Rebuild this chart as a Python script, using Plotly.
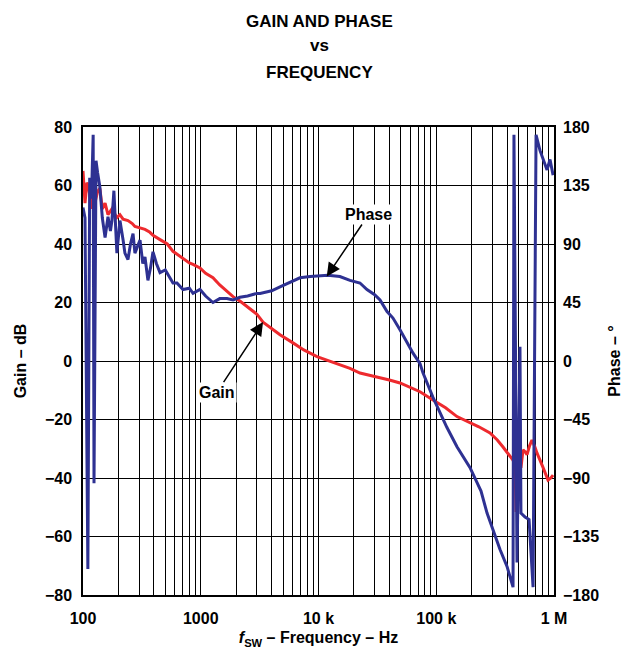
import plotly.graph_objects as go

# Gain (dB) vs frequency (Hz)
gain_freq = [100, 104, 108, 112, 117, 122, 128, 133, 139, 146, 154, 163, 176, 194, 206,
             219, 241, 262, 276, 305, 336, 370, 393, 451, 520, 581, 650, 707, 800, 860,
             985, 1100, 1270, 1450, 1670, 1880, 2150, 2500, 3000, 3380, 4000, 4710, 6070,
             7500, 9710, 11800, 15000, 18500, 22500, 30000, 40000, 49200, 60000, 72800,
             93800, 120000, 150000, 182000, 230000, 286000, 330000, 369000, 423000,
             450000, 467000, 476000, 485000, 504000, 524000, 546000, 568000, 590000,
             620000, 650000, 690000, 718000, 800000, 890000, 940000, 982000]
gain_db = [65, 54, 61, 59.5, 52, 60, 55, 58, 59, 52, 54, 50, 52, 49, 50,
           48.5, 48, 47, 46, 45.5, 45, 44, 43, 41.5, 40, 37.5, 36, 35, 33.5, 33,
           31.8, 30, 28.5, 26, 24, 22, 20.5, 18.5, 16, 13.3, 11, 9, 6.2,
           3.8, 1.5, 0.3, -1.3, -2.5, -4.1, -5.2, -6.5, -7.5, -9, -10.5,
           -13.3, -16, -19, -20.5, -22.5, -24.6, -27, -29.4, -32.8,
           -34, -36, -51.6, -42, -35, -36.5, -30.4, -31, -32,
           -29, -27, -29.5, -31.5, -36, -40.7, -40, -39]

# Phase (degrees) vs frequency (Hz)
phase_freq = [100, 104, 110, 114, 118, 122, 124, 129, 133, 139, 146, 154, 163, 171, 176,
              183, 194, 206, 219, 227, 241, 253, 266, 276, 290, 305, 322, 336, 356, 375,
              393, 420, 451, 500, 581, 628, 707, 800, 860, 985, 1100, 1270, 1450, 1670,
              1880, 2150, 2500, 3000, 3190, 4000, 4710, 5500, 6960, 8500, 9710, 12000,
              15200, 18500, 22500, 25800, 30000, 33300, 38200, 42900, 49200, 56000,
              63500, 72800, 77100, 93800, 123000, 150000, 193600, 240000, 270000,
              348000, 399000, 449000, 457000, 485000, 514000, 524000, 568000, 614000,
              664000, 704000, 760000, 873000, 925000, 982000]
phase_deg = [118, 110, -160, 141, 125, 174, -94, 154, 145, 134, 110, 95, 111, 100, 108,
             131, 83, 108, 93, 83, 78, 90, 98, 83, 88, 93, 75, 80, 62, 72,
             84, 75, 68, 70, 60, 60, 55, 56, 52, 55, 50, 45, 48, 48,
             47, 49, 50, 52, 52, 54, 57, 60, 64, 65, 65.5, 66,
             65, 62, 60, 55, 51, 47, 38, 33, 24, 15,
             6, -2, -9, -28, -51, -66, -82, -100, -117,
             -145, -158, -174, 174, -155, 11, -117, -120, -122,
             -174, 174, 162, 147, 155, 143]

x_major = [100, 1000, 10000, 100000, 1000000]
x_major_text = ['100', '1000', '10 k', '100 k', '1 M']

title_lines = ['GAIN AND PHASE', 'vs', 'FREQUENCY']

FONT = 'Liberation Sans, Arial, sans-serif'
RED = '#EE2A2E'
BLUE = '#2E3192'

# plot area in pixels (for placing the title lines above it)
L, R, T, B = 83, 69, 127, 56
H = 651 - T - B

# all decade multiples get a grid line, only decades get a label
tickvals, ticktext = [], []
for d in range(2, 6):
    for m in range(1, 10):
        v = m * 10 ** d
        tickvals.append(v)
        ticktext.append(x_major_text[x_major.index(v)] if v in x_major else '')
tickvals.append(x_major[-1])
ticktext.append(x_major_text[-1])

fig = go.Figure()

fig.add_trace(go.Scatter(
    x=gain_freq, y=gain_db, mode='lines', name='Gain',
    line=dict(color=RED, width=3)
))
fig.add_trace(go.Scatter(
    x=phase_freq, y=phase_deg, mode='lines', name='Phase', yaxis='y2',
    line=dict(color=BLUE, width=3)
))

bold = dict(family=FONT, size=16, color='black', weight='bold')

fig.add_annotation(
    x=4.07, y=65, xref='x', yref='y2', text='Phase', showarrow=True,
    ax=42, ay=-62, arrowhead=2, arrowsize=1.8, arrowwidth=1.5, arrowcolor='black',
    bgcolor='white', font=bold
)
fig.add_annotation(
    x=3.529, y=13.3, xref='x', yref='y', text='Gain', showarrow=True,
    ax=-46, ay=70, arrowhead=2, arrowsize=1.8, arrowwidth=1.5, arrowcolor='black',
    bgcolor='white', font=bold
)

# three centred title lines
for txt, ypx in zip(title_lines, [21.5, 46, 72.5]):
    fig.add_annotation(
        x=(319 - L) / (623 - L - R), y=(651 - B - ypx) / H,
        xref='paper', yref='paper', xanchor='center', yanchor='middle',
        text=txt, showarrow=False,
        font=dict(family=FONT, size=17, color='black', weight='bold')
    )

fig.update_layout(
    width=623, height=651,
    margin=dict(l=L, r=R, t=T, b=B),
    paper_bgcolor='white', plot_bgcolor='white',
    showlegend=False,
    font=dict(family=FONT, color='black'),
    xaxis=dict(
        type='log', range=[2, 6], automargin=False,
        tickvals=tickvals, ticktext=ticktext,
        showgrid=True, gridcolor='black', gridwidth=1,
        showline=True, linecolor='black', linewidth=1.5, mirror=True,
        ticks='', ticklabelstandoff=8,
        tickfont=bold,
        title=dict(text='<i>f</i><sub>SW</sub> – Frequency – Hz', font=bold, standoff=6),
        zeroline=False
    ),
    yaxis=dict(
        range=[-80, 80], dtick=20, automargin=False,
        showgrid=True, gridcolor='black', gridwidth=1,
        showline=True, linecolor='black', linewidth=1.5, mirror=True,
        ticks='', ticklabelstandoff=6,
        tickfont=bold, zeroline=False,
        title=dict(text='Gain – dB', font=bold, standoff=14)
    ),
    yaxis2=dict(
        range=[-180, 180], dtick=45, overlaying='y', side='right', automargin=False,
        showgrid=False, ticks='', ticklabelstandoff=8,
        tickfont=bold, zeroline=False,
        title=dict(text='Phase – °', font=bold, standoff=10)
    )
)

# the page's default body margin would push the figure 8 px in and crop its right edge
fig.write_html('out.html', config={'displayModeBar': False},
               post_script="document.body.style.margin = '0';")
